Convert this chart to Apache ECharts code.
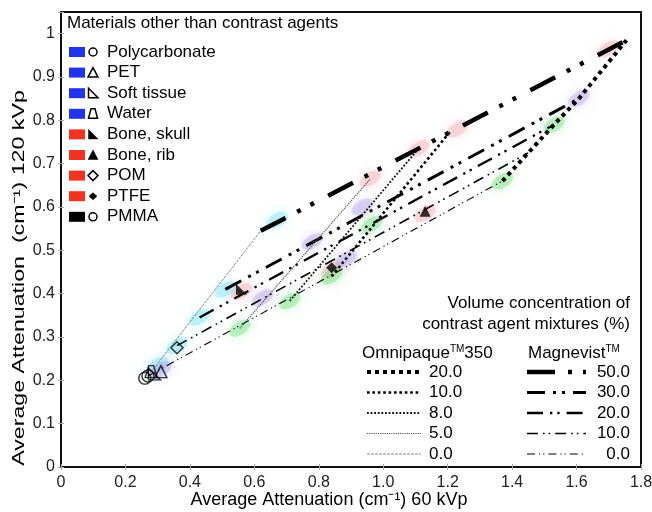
<!DOCTYPE html>
<html>
<head>
<meta charset="utf-8">
<script src="https://cdn.jsdelivr.net/npm/echarts@6/dist/echarts.min.js"></script>
<style>
html, body { margin: 0; padding: 0; background: #fff; }
#main { width: 652px; height: 512px; }
</style>
</head>
<body>
<div id="main"></div>
<script>
var myChart = echarts.init(document.getElementById('main'));

var xTickLabels = ['0', '0.2', '0.4', '0.6', '0.8', '1.0', '1.2', '1.4', '1.6', '1.8'];
var yTickLabels = ['0', '0.1', '0.2', '0.3', '0.4', '0.5', '0.6', '0.7', '0.8', '0.9', '1'];

// Magnevist lines (concentration %), straight segments
var magnevist50 = [[0.62, 0.545], [1.755, 0.985]];
var magnevist30 = [[0.51, 0.41], [1.607, 0.85]];
var magnevist20 = [[0.43, 0.345], [1.53, 0.79]];
var magnevist10 = [[0.36, 0.28], [1.45, 0.725]];
var magnevist0 = [[0.27, 0.21], [1.37, 0.66]];
// Omnipaque 350 lines
var omni20 = [[1.37, 0.66], [1.53, 0.79], [1.607, 0.85], [1.755, 0.985]];
var omni10 = [[0.84, 0.44], [1.21, 0.776]];
var omni8 = [[0.71, 0.383], [1.11, 0.735]];
var omni5 = [[0.555, 0.32], [0.96, 0.665]];
var omni0 = [[0.27, 0.21], [0.62, 0.545]];

// fuzzy measurement clusters
var cyanPts = [[0.30, 0.235], [0.36, 0.28], [0.43, 0.345], [0.51, 0.41], [0.67, 0.57]];
var pinkPts = [[0.56, 0.405], [0.96, 0.665], [1.11, 0.735], [1.23, 0.78], [1.13, 0.585], [1.70, 0.965], [0.84, 0.455]];
var purplePts = [[0.31, 0.225], [0.625, 0.39], [0.78, 0.52], [0.885, 0.48], [0.935, 0.60], [1.607, 0.85]];
var greenPts = [[0.555, 0.32], [0.71, 0.383], [0.84, 0.44], [0.965, 0.56], [1.37, 0.66], [1.53, 0.79]];

// materials other than contrast agents: name, x, y, symbol key, filled
var materials = [
    ['Polycarbonate', 0.26, 0.205, 'circle', false],
    ['PET', 0.31, 0.22, 'tri', false],
    ['Soft tissue', 0.29, 0.215, 'rtri', false],
    ['Water', 0.28, 0.22, 'trap', false],
    ['Bone, skull', 0.56, 0.41, 'rtri', true],
    ['Bone, rib', 1.13, 0.59, 'tri', true],
    ['POM', 0.36, 0.275, 'diamond', false],
    ['PTFE', 0.84, 0.46, 'diamond', true],
    ['PMMA', 0.27, 0.21, 'circle', false]
];
var materialColors = ['#2233ee', '#2233ee', '#2233ee', '#2233ee', '#f23322', '#f23322', '#f23322', '#f23322', '#000000'];

var omniNames = ['20.0', '10.0', '8.0', '5.0', '0.0'];
var magNames = ['50.0', '30.0', '20.0', '10.0', '0.0'];

var symbolPaths = {
    circle: 'circle',
    tri: 'path://M5,0 L10,10 L0,10 Z',
    rtri: 'path://M0,0 L0,10 L10,10 Z',
    trap: 'path://M3,0 L7,0 L10,10 L0,10 Z',
    diamond: 'path://M5,0 L10,5 L5,10 L0,5 Z'
};

var magStyles = [
    { data: magnevist50, width: 4.5, dash: [28, 13, 4, 11, 4, 16] },
    { data: magnevist30, width: 3, dash: [18, 8, 3, 6, 3, 8] },
    { data: magnevist20, width: 2.3, dash: [16, 7, 2.3, 5, 2.3, 7] },
    { data: magnevist10, width: 1.6, dash: [11, 5, 1.6, 4, 1.6, 5] },
    { data: magnevist0, width: 1.1, dash: [8, 4, 1.2, 3, 1.2, 4] }
];
var omniStyles = [
    { data: omni20, width: 4, dash: [4, 4], color: '#000' },
    { data: omni10, width: 2.6, dash: [2.6, 2.8], color: '#000' },
    { data: omni8, width: 1.8, dash: [1.8, 1.8], color: '#111' },
    { data: omni5, width: 1.2, dash: [1.2, 1], color: '#555' },
    { data: omni0, width: 1, dash: [3, 1], color: '#888' }
];

var series = [];

function cluster(pts, color) {
    return {
        type: 'scatter', data: pts, z: 1, silent: true,
        symbol: 'circle', symbolSize: [24, 13], symbolRotate: 32,
        itemStyle: { color: color, opacity: 0.28, shadowBlur: 12, shadowColor: color }
    };
}
series.push(cluster(cyanPts, '#4fdcec'));
series.push(cluster(pinkPts, '#ee8e9a'));
series.push(cluster(purplePts, '#9c80de'));
series.push(cluster(greenPts, '#3fd452'));

magStyles.concat(omniStyles).forEach(function (l) {
    series.push({
        type: 'line', data: l.data, symbol: 'none', z: 3, silent: true,
        lineStyle: { color: l.color || '#000', width: l.width, type: l.dash, cap: 'butt' }
    });
});

materials.forEach(function (m) {
    series.push({
        type: 'scatter', data: [[m[1], m[2]]], symbol: symbolPaths[m[3]], symbolSize: m[4] ? 11 : 12, z: 4,
        itemStyle: { color: m[4] ? '#000' : 'rgba(0,0,0,0)', borderColor: '#000', borderWidth: m[4] ? 0 : 1.4 }
    });
});

// legend for materials, drawn as graphics
var graphics = [];
graphics.push({ type: 'text', left: 67, top: 15, style: { text: 'Materials other than contrast agents', font: '17px Arial', fill: '#000' } });

function legendIcon(kind, filled, cx, cy) {
    var st = { fill: filled ? '#000' : 'none', stroke: '#000', lineWidth: filled ? 0.5 : 1.5 };
    if (kind === 'circle') return { type: 'circle', shape: { cx: cx, cy: cy, r: 4 }, style: st };
    var pts;
    if (kind === 'tri') pts = [[cx, cy - 5], [cx + 5, cy + 4.5], [cx - 5, cy + 4.5]];
    if (kind === 'rtri') pts = [[cx - 4.5, cy - 5], [cx - 4.5, cy + 4.5], [cx + 5, cy + 4.5]];
    if (kind === 'trap') pts = [[cx - 2, cy - 5], [cx + 2, cy - 5], [cx + 4.5, cy + 4.5], [cx - 4.5, cy + 4.5]];
    if (kind === 'diamond') pts = filled ? [[cx, cy - 3.5], [cx + 4, cy], [cx, cy + 3.5], [cx - 4, cy]] : [[cx, cy - 5], [cx + 5, cy], [cx, cy + 5], [cx - 5, cy]];
    return { type: 'polygon', shape: { points: pts }, style: st };
}

materials.forEach(function (m, i) {
    var cy = 52 + i * 20.6;
    graphics.push({ type: 'rect', shape: { x: 69, y: cy - 5, width: 16, height: 10 }, style: { fill: materialColors[i] } });
    graphics.push(legendIcon(m[3], m[4], 93, cy));
    graphics.push({ type: 'text', x: 107, y: cy, style: { text: m[0], font: '17px Arial', fill: '#000', textVerticalAlign: 'middle' } });
});

// axis titles: the y title lettering is drawn stretched along its length in the original
graphics.push({
    type: 'text', x: 20, y: 278, rotation: Math.PI / 2, scaleX: 1.45,
    style: { text: 'Average Attenuation  (cm\u207B\u00B9) 120 kVp', font: '16px Arial', fill: '#000', textAlign: 'center', textVerticalAlign: 'middle' }
});
graphics.push({
    type: 'text', x: 329, y: 500,
    style: { text: 'Average Attenuation (cm\u207B\u00B9) 60 kVp', font: '18px Arial', fill: '#000', textAlign: 'center', textVerticalAlign: 'middle' }
});

// legend for concentrations
graphics.push({ type: 'text', x: 630, y: 303, style: { text: 'Volume concentration of', font: '17px Arial', fill: '#000', textAlign: 'right', textVerticalAlign: 'middle' } });
graphics.push({ type: 'text', x: 630, y: 324, style: { text: 'contrast agent mixtures (%)', font: '17px Arial', fill: '#000', textAlign: 'right', textVerticalAlign: 'middle' } });
graphics.push({ type: 'text', x: 362, y: 353, style: { rich: { a: { font: '17px Arial', fill: '#000' }, s: { font: '10px Arial', fill: '#000', verticalAlign: 'top', padding: [0, 0, 8, 0] } }, text: '{a|Omnipaque}{s|TM}{a|350}', textVerticalAlign: 'middle' } });
graphics.push({ type: 'text', x: 528, y: 353, style: { rich: { a: { font: '17px Arial', fill: '#000' }, s: { font: '10px Arial', fill: '#000', verticalAlign: 'top', padding: [0, 0, 8, 0] } }, text: '{a|Magnevist}{s|TM}', textVerticalAlign: 'middle' } });
omniNames.forEach(function (n, i) {
    var y = 372 + i * 20.5;
    var l = omniStyles[i];
    graphics.push({ type: 'line', shape: { x1: 367, y1: y, x2: 421, y2: y }, style: { stroke: l.color, lineWidth: l.width, lineDash: l.dash } });
    graphics.push({ type: 'text', x: 429, y: y, style: { text: n, font: '17px Arial', fill: '#000', textVerticalAlign: 'middle' } });
});
magNames.forEach(function (n, i) {
    var y = 372 + i * 20.5;
    var l = magStyles[i];
    graphics.push({ type: 'line', shape: { x1: 527, y1: y, x2: 586, y2: y }, style: { stroke: '#000', lineWidth: l.width, lineDash: l.dash } });
    graphics.push({ type: 'text', x: 630, y: y, style: { text: n, font: '17px Arial', fill: '#000', textAlign: 'right', textVerticalAlign: 'middle' } });
});

var tickStyle = { show: true, inside: true, length: 3, lineStyle: { color: '#aaa' } };

var option = {
    backgroundColor: '#fff',
    animation: false,
    grid: { left: 61, right: 11, top: 12, bottom: 45, show: true, borderColor: '#111', borderWidth: 2, containLabel: false, outerBoundsMode: 'none' },
    xAxis: [{
        type: 'value', min: 0, max: 1.8, interval: 0.2,
        axisLine: { lineStyle: { color: '#111', width: 2 } },
        axisTick: tickStyle,
        splitLine: { show: false },
        axisLabel: {
            color: '#222', fontSize: 16, fontFamily: 'Arial', margin: 8,
            formatter: function (v) { return xTickLabels[Math.round(v * 5)]; }
        }
    }, {
        type: 'value', min: 0, max: 1.8, interval: 0.2, position: 'top',
        axisLine: { show: false }, axisTick: tickStyle, axisLabel: { show: false }, splitLine: { show: false }
    }],
    yAxis: [{
        type: 'value', min: 0, max: 1.05, interval: 0.1,
        axisLine: { lineStyle: { color: '#111', width: 2 } },
        axisTick: tickStyle,
        splitLine: { show: false },
        axisLabel: {
            color: '#222', fontSize: 16, fontFamily: 'Arial', margin: 6,
            formatter: function (v) { var i = Math.round(v * 10); return i > 10 ? '' : yTickLabels[i]; }
        }
    }, {
        type: 'value', min: 0, max: 1.05, interval: 0.1, position: 'right',
        axisLine: { show: false }, axisTick: tickStyle, axisLabel: { show: false }, splitLine: { show: false }
    }],
    graphic: graphics,
    series: series
};

myChart.setOption(option);
</script>
</body>
</html>
